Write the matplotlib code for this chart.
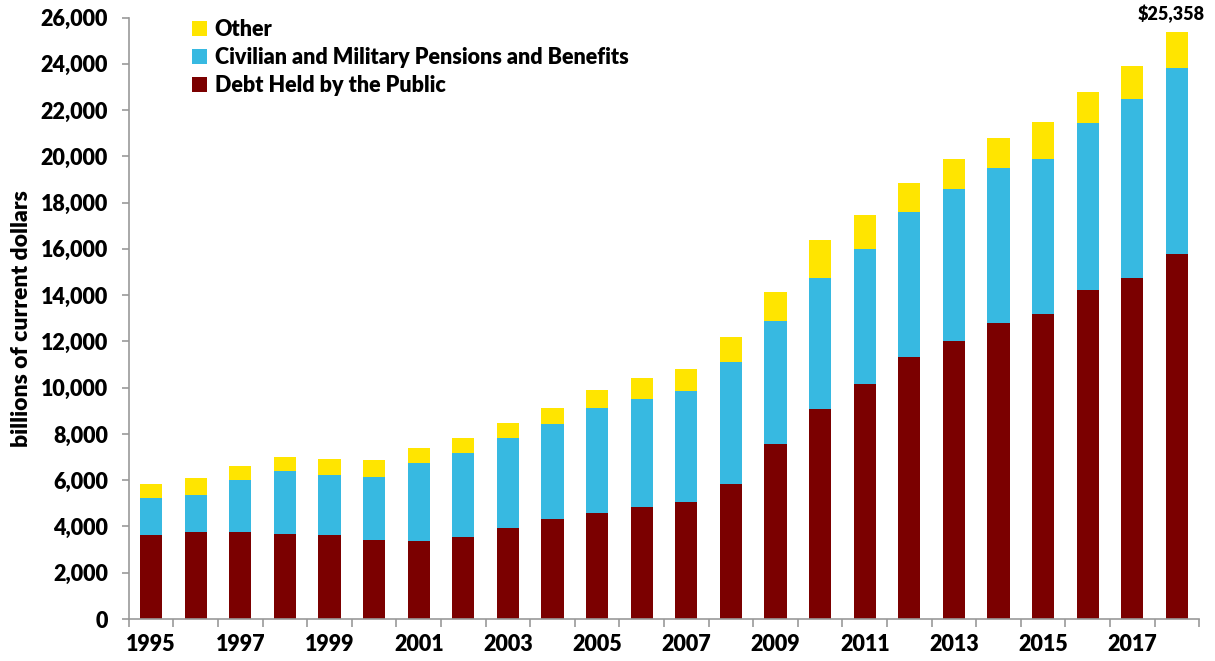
import numpy as np
import matplotlib.pyplot as plt
from matplotlib.ticker import FuncFormatter, MultipleLocator

years = list(range(1995, 2019))
# cumulative tops (billions)
debt = [3630, 3759, 3759, 3687, 3630, 3428, 3370, 3558, 3947, 4335, 4594, 4853,
        5056, 5834, 7576, 9060, 10168, 11321, 12027, 12805, 13193, 14231, 14749, 15772]
debt_plus_pensions = [5242, 5358, 6006, 6395, 6208, 6136, 6741, 7187, 7835, 8426, 9132, 9507,
                      9838, 11119, 12877, 14749, 15988, 17601, 18581, 19474, 19864, 21419, 22457, 23810]
total = [5834, 6093, 6611, 7000, 6928, 6871, 7389, 7835, 8484, 9132, 9895, 10427,
         10803, 12172, 14117, 16377, 17471, 18840, 19864, 20785, 21476, 22773, 23883, 25358]

pensions = np.array(debt_plus_pensions) - np.array(debt)
other = np.array(total) - np.array(debt_plus_pensions)

red = '#7B0000'
blue = '#37B9E1'
yellow = '#FFE500'

plt.rcParams['font.family'] = ['Lato', 'DejaVu Sans']
plt.rcParams['font.weight'] = 'heavy'

fig = plt.figure(figsize=(12.15, 6.61), dpi=100)
ax = fig.add_axes([0.106, 0.0635, 0.881, 0.91])

x = np.arange(len(years))
w = 0.5
b1 = ax.bar(x, debt, w, color=red, label='Debt Held by the Public')
b2 = ax.bar(x, pensions, w, bottom=debt, color=blue, label='Civilian and Military Pensions and Benefits')
b3 = ax.bar(x, other, w, bottom=debt_plus_pensions, color=yellow, label='Other')

ax.set_xlim(-0.5, len(years) - 0.5)
ax.set_ylim(0, 26000)
ax.yaxis.set_major_locator(MultipleLocator(2000))
ax.yaxis.set_major_formatter(FuncFormatter(lambda v, p: f'{int(v):,}'))

ax.set_xticks(x[::2])
ax.set_xticklabels([str(y) for y in years[::2]])
ax.set_xticks(np.arange(-0.5, len(years), 1), minor=True)
ax.tick_params(axis='x', which='major', length=0, pad=11, labelsize=15.5)
ax.tick_params(axis='x', which='minor', length=6, color='#999999', width=1.2)
ax.tick_params(axis='y', length=5, color='#999999', width=1.2, labelsize=15.5, pad=10)

for s in ['top', 'right']:
    ax.spines[s].set_visible(False)
for s in ['left', 'bottom']:
    ax.spines[s].set_color('#999999')
    ax.spines[s].set_linewidth(1.2)

ax.set_ylabel('billions of current dollars', fontsize=16.5, fontweight='heavy', labelpad=6)

ax.annotate(f'${total[-1]:,}', (x[-1], total[-1]), xytext=(-4, 7), textcoords='offset points',
            ha='center', va='bottom', fontsize=13, fontweight='heavy')

ax.legend(handles=[b3, b2, b1], loc='upper left', bbox_to_anchor=(0.144, 0.997),
          bbox_transform=fig.transFigure, frameon=False, fontsize=15.5,
          handlelength=0.7, handleheight=0.7, handletextpad=0.35, labelspacing=0.33,
          borderpad=0.3)

fig.savefig('out.png', dpi=100)
